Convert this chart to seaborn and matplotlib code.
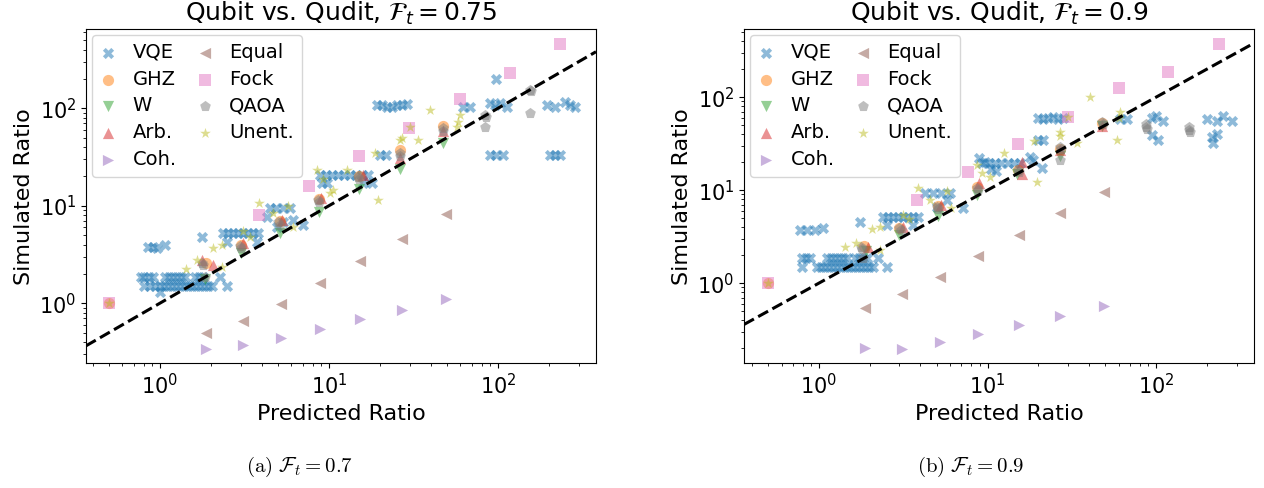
import matplotlib
matplotlib.use("Agg")
import matplotlib.pyplot as plt
import seaborn as sns

# ---------------- data: panel (a) F_t = 0.75 ----------------
vqe_x_a = [0.85, 0.91, 0.96, 1.07,
           0.77, 0.81, 0.86, 0.91, 1.07, 1.13, 1.19, 1.26, 1.33, 1.41, 1.61, 1.70, 1.80, 2.26,
           0.81, 0.87, 0.93, 1.0, 1.06, 1.11, 1.18, 1.24, 1.31, 1.39, 1.46, 1.55, 1.63, 1.72,
           1.82, 1.92, 2.03, 2.49,
           1.0, 1.77,
           2.36, 2.52, 2.70, 2.90, 3.10, 3.32, 3.55, 3.80, 2.49, 3.75,
           4.48, 4.85, 5.35, 5.9, 4.3, 4.9, 5.35, 6.1, 7.0,
           8.85, 9.6, 10.4, 11.3, 12.3, 13.3, 14.5, 15.7, 17.0, 9.1, 9.7, 15.9, 17.9,
           20, 21.7,
           19.2, 20.6, 22.0, 23.6, 25.3, 27.0, 29.0,
           62, 68, 89.6, 96, 103, 113, 98,
           90, 98, 107,
           195, 216, 250, 267, 286, 203, 216, 232]
vqe_y_a = [3.75, 3.75, 3.7, 4.0,
           1.85, 1.85, 1.85, 1.85, 1.85, 1.85, 1.85, 1.85, 1.85, 1.85, 1.85, 1.85, 1.85, 1.85,
           1.49, 1.49, 1.49, 1.49, 1.49, 1.49, 1.49, 1.49, 1.49, 1.49, 1.49, 1.49, 1.49, 1.49,
           1.49, 1.49, 1.49, 1.49,
           1.30, 4.75,
           5.2, 5.2, 5.2, 5.2, 5.2, 5.2, 5.2, 5.2, 4.2, 4.2,
           9.4, 9.4, 9.4, 9.4, 7.6, 6.0, 6.8, 7.1, 6.3,
           20.6, 20.6, 20.6, 20.6, 20.6, 20.6, 20.6, 20.6, 20.6, 17, 17, 17, 17,
           33, 33,
           107, 107, 102, 104, 107, 109, 110,
           102, 102, 112, 107, 112, 102, 199,
           33, 33, 33,
           107, 102, 115, 107, 102, 33, 33, 33]

ghz_x_a = [0.5, 1.87, 3.0, 5.1, 8.7, 15, 26.5, 47.5]
ghz_y_a = [1.0, 2.6, 4.0, 6.9, 11.6, 20, 37, 66]
w_x_a = [1.85, 3.0, 5.1, 8.7, 15, 26.5, 47.5]
w_y_a = [1.75, 3.25, 5.2, 8.6, 15, 24, 44]
arb_x_a = [1.77, 2.05, 3.1, 5.3, 9.0, 15.8, 26.5, 47.5]
arb_y_a = [2.76, 2.45, 4.1, 7.1, 11.9, 20.5, 31, 59]
coh_x_a = [1.87, 3.1, 5.2, 8.8, 15.3, 27, 49]
coh_y_a = [0.337, 0.371, 0.438, 0.541, 0.686, 0.848, 1.10]
equal_x_a = [1.87, 3.1, 5.2, 8.8, 15.3, 27, 49]
equal_y_a = [0.49, 0.65, 0.98, 1.6, 2.7, 4.6, 8.2]
fock_x_a = [0.5, 3.86, 7.6, 15.1, 29.7, 60, 118, 233]
fock_y_a = [1.0, 8.0, 15.9, 32, 62, 123, 229, 454]
qaoa_x_a = [1.77, 1.80, 1.85, 2.97, 3.0, 5.0, 5.1, 8.6, 8.7, 14.8, 15.0, 26.3, 26.5,
            47, 47.5, 84, 85, 84, 155, 157, 155]
qaoa_y_a = [2.57, 2.45, 1.85, 3.9, 3.7, 6.8, 6.3, 11.4, 10.8, 19.6, 18.8, 34.6, 32,
            62, 58, 85, 82, 64, 153, 150, 89]
unent_x_a = [0.5, 1.43, 1.65, 2.06, 2.33, 2.33, 3.1, 3.4, 3.85, 4.67, 5.7, 6.1,
             8.5, 9.2, 10.1, 10.5, 12.7, 18.7, 19.5, 26.3, 27, 33.6, 30, 39.7,
             60, 58, 57]
unent_y_a = [1.0, 2.23, 2.76, 3.66, 4.0, 2.34, 5.5, 4.75, 10.6, 8.4, 9.9, 6.0,
             23, 19, 13.4, 14.4, 23, 34.6, 11.4, 47, 50, 47, 64, 95,
             85, 72, 64]

# ---------------- data: panel (b) F_t = 0.9 ----------------
vqe_x_b = [0.77, 0.85, 0.95, 1.06,
           0.79, 0.84, 0.88, 1.12, 1.18, 1.24, 1.31, 1.39, 1.47, 1.64, 1.73, 1.83, 1.93, 2.24,
           0.79, 0.97, 1.03, 1.09, 1.15, 1.21, 1.28, 1.35, 1.43, 1.51, 1.59, 1.68, 1.78, 1.87,
           1.98, 2.09, 2.53,
           1.75,
           2.40, 2.57, 2.75, 2.94, 3.15, 3.38, 3.61, 3.87, 2.53, 3.6,
           4.25, 4.75, 5.3, 6.0, 5.0, 7.2, 5.75,
           8.9, 9.6, 10.5, 11.2,
           9.3, 10.2, 11.1, 12.1, 13.2, 14.4, 15.6,
           17.9, 21, 18.5,
           20, 21.3, 22.9, 24.5, 26.2, 28.1,
           20, 21.4,
           61, 67, 95, 100, 110, 95, 103,
           200, 230, 250, 282, 215, 230, 218]
vqe_y_b = [3.7, 3.7, 3.7, 3.9,
           1.86, 1.86, 1.86, 1.86, 1.86, 1.86, 1.86, 1.86, 1.86, 1.86, 1.86, 1.86, 1.86, 1.86,
           1.49, 1.49, 1.49, 1.49, 1.49, 1.49, 1.49, 1.49, 1.49, 1.49, 1.49, 1.49, 1.49, 1.49,
           1.49, 1.49, 1.49,
           4.5,
           5.1, 5.1, 5.1, 5.1, 5.1, 5.1, 5.1, 5.1, 4.2, 4.2,
           9.3, 9.3, 9.3, 9.3, 6.6, 6.4, 7.8,
           22, 20, 17, 16,
           19.5, 19.5, 19.5, 19.5, 19.5, 19.5, 19.5,
           22.5, 17.3, 21,
           60, 58, 60, 61, 58, 60,
           34.6, 34.6,
           58, 58, 59, 62, 56, 39, 34.6,
           58, 56, 62, 56, 37, 40, 32]

ghz_x_b = [0.5, 1.85, 3.0, 5.1, 8.7, 15.2, 27, 48]
ghz_y_b = [1.0, 2.5, 3.9, 6.7, 10.8, 16.5, 28, 53]
w_x_b = [1.9, 3.0, 5.1, 8.7, 15, 27, 48]
w_y_b = [2.2, 3.3, 5.3, 8.9, 15, 23, 49]
arb_x_b = [1.95, 3.15, 5.3, 8.9, 16, 16, 27, 48]
arb_y_b = [2.44, 4.0, 6.9, 11.9, 20, 15, 27, 49]
coh_x_b = [1.87, 3.1, 5.2, 8.8, 15.3, 27, 49]
coh_y_b = [0.20, 0.195, 0.232, 0.283, 0.353, 0.44, 0.566]
equal_x_b = [1.87, 3.1, 5.2, 8.8, 15.3, 27, 49]
equal_y_b = [0.54, 0.76, 1.16, 1.95, 3.28, 5.66, 9.5]
fock_x_b = [0.5, 3.8, 7.7, 15.2, 30, 60, 118, 237]
fock_y_b = [1.0, 7.8, 15.6, 31, 61, 125, 186, 372]
qaoa_x_b = [1.78, 1.80, 1.83, 3.0, 3.05, 5.0, 5.05, 8.7, 8.8, 15.2, 15.3, 27, 27.3, 27,
            48, 48.5, 87, 87, 88, 157, 157, 158]
qaoa_y_b = [2.44, 2.3, 1.86, 3.9, 3.7, 6.6, 6.2, 10.5, 10.0, 16.4, 15.8, 29, 27.5, 21,
            54, 51, 48, 52, 46, 44, 48, 42]
unent_x_b = [0.5, 1.43, 1.66, 2.06, 2.3, 2.3, 3.15, 3.4, 3.87, 4.55, 5.75, 6.05,
             8.7, 9.3, 10.4, 12.5, 18.9, 19.6, 27, 27, 34, 30, 40.6, 61, 60, 59]
unent_y_b = [1.0, 2.44, 2.7, 3.8, 4.0, 2.26, 5.4, 4.9, 10.5, 7.8, 9.7, 6.4,
             18.6, 15.2, 13.8, 25, 33.6, 12.2, 42, 38, 32, 61, 100, 69, 60, 34.6]

series_names = ["VQE", "GHZ", "W", "Arb.", "Coh.", "Equal", "Fock", "QAOA", "Unent."]
markers = ["X", "o", "v", "^", ">", "<", "s", "p", "*"]
palette = sns.color_palette("tab10")
colors = [palette[0], palette[1], palette[2], palette[3], palette[4],
          palette[5], palette[6], palette[7], palette[8]]

panel_a = [(vqe_x_a, vqe_y_a), (ghz_x_a, ghz_y_a), (w_x_a, w_y_a), (arb_x_a, arb_y_a),
           (coh_x_a, coh_y_a), (equal_x_a, equal_y_a), (fock_x_a, fock_y_a),
           (qaoa_x_a, qaoa_y_a), (unent_x_a, unent_y_a)]
panel_b = [(vqe_x_b, vqe_y_b), (ghz_x_b, ghz_y_b), (w_x_b, w_y_b), (arb_x_b, arb_y_b),
           (coh_x_b, coh_y_b), (equal_x_b, equal_y_b), (fock_x_b, fock_y_b),
           (qaoa_x_b, qaoa_y_b), (unent_x_b, unent_y_b)]

titles = [r"Qubit vs. Qudit, $\mathcal{F}_t = 0.75$", r"Qubit vs. Qudit, $\mathcal{F}_t = 0.9$"]
captions = [r"$\mathrm{(a)}\ \mathcal{F}_t = 0.7$", r"$\mathrm{(b)}\ \mathcal{F}_t = 0.9$"]
xlims = [(0.365, 380), (0.359, 381)]
ylims = [(0.243, 646), (0.138, 537)]

fig = plt.figure(figsize=(12.64, 4.88), dpi=100)
ax_a = fig.add_axes([0.068, 0.256, 0.4035, 0.684])
ax_b = fig.add_axes([0.5886, 0.256, 0.4035, 0.684])

for ax, panel, title, xl, yl in zip([ax_a, ax_b], [panel_a, panel_b], titles, xlims, ylims):
    ax.set_xscale("log")
    ax.set_yscale("log")
    for (xs, ys), name, mk, col in zip(panel, series_names, markers, colors):
        sns.scatterplot(x=xs, y=ys, ax=ax, marker=mk, color=col, alpha=0.5,
                        s=65, linewidth=0, label=name)
    ax.axline((1, 1), (10, 10), color="black", linestyle="--", linewidth=2.2)
    ax.set_xlim(*xl)
    ax.set_ylim(*yl)
    ax.set_title(title, fontsize=18)
    ax.set_xlabel("Predicted Ratio", fontsize=16)
    ax.set_ylabel("Simulated Ratio", fontsize=16)
    ax.tick_params(axis="both", which="major", labelsize=15)
    ax.legend(loc="upper left", ncol=2, fontsize=14, handlelength=0.9,
              handletextpad=0.8, columnspacing=1.0, labelspacing=0.4,
              borderpad=0.4, borderaxespad=0.3)

fig.text(0.237, 0.043, captions[0], fontsize=15, ha="center", va="center",
         math_fontfamily="cm")
fig.text(0.768, 0.043, captions[1], fontsize=15, ha="center", va="center",
         math_fontfamily="cm")

fig.savefig("out.png", dpi=100)
